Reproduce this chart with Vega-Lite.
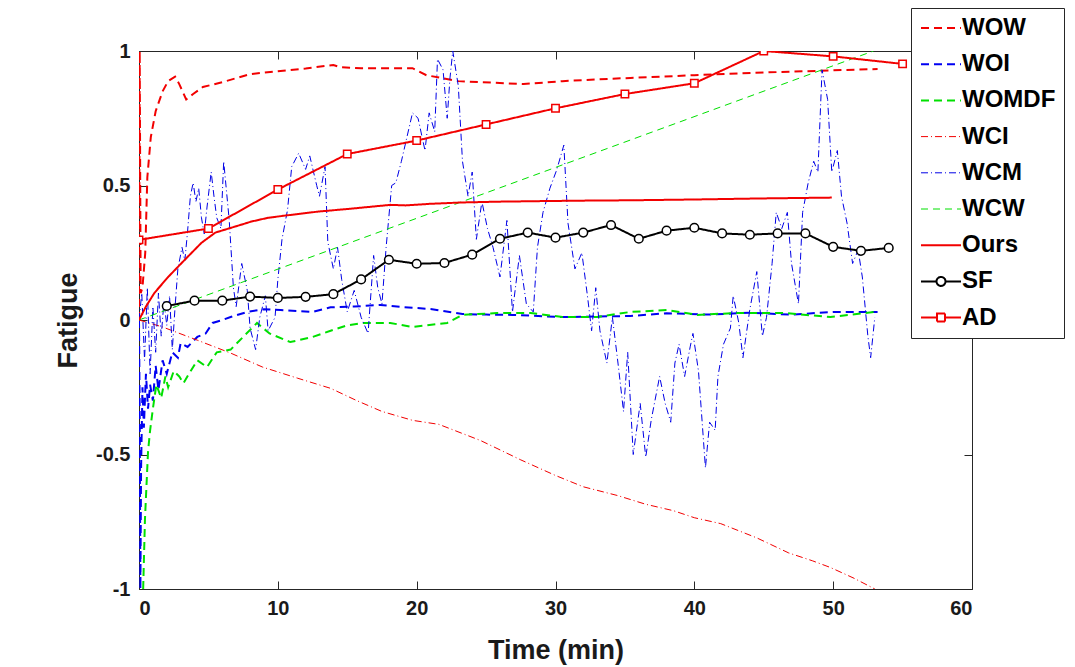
{
  "$schema": "https://vega.github.io/schema/vega-lite/v6.json",
  "width": 833,
  "height": 538,
  "autosize": {"type": "none"},
  "padding": {"left": 139, "top": 51, "right": 103, "bottom": 78},
  "background": "white",
  "datasets": {
    "series": [
      {"s": "WO_W", "t": 0, "v": 0}, {"s": "WO_W", "t": 0.05, "v": 1.0}, {"s": "WO_W", "t": 0.12, "v": 0.1},
      {"s": "WO_W", "t": 0.25, "v": 0.12}, {"s": "WO_W", "t": 0.45, "v": 0.25}, {"s": "WO_W", "t": 0.6, "v": 0.53},
      {"s": "WO_W", "t": 0.85, "v": 0.68}, {"s": "WO_W", "t": 1.2, "v": 0.776}, {"s": "WO_W", "t": 1.7, "v": 0.85},
      {"s": "WO_W", "t": 2.1, "v": 0.888}, {"s": "WO_W", "t": 2.6, "v": 0.905}, {"s": "WO_W", "t": 2.9, "v": 0.877},
      {"s": "WO_W", "t": 3.4, "v": 0.82}, {"s": "WO_W", "t": 3.9, "v": 0.84}, {"s": "WO_W", "t": 4.6, "v": 0.866},
      {"s": "WO_W", "t": 6, "v": 0.884}, {"s": "WO_W", "t": 8, "v": 0.914}, {"s": "WO_W", "t": 10, "v": 0.925},
      {"s": "WO_W", "t": 12, "v": 0.935}, {"s": "WO_W", "t": 14, "v": 0.948}, {"s": "WO_W", "t": 14.5, "v": 0.94},
      {"s": "WO_W", "t": 16, "v": 0.936}, {"s": "WO_W", "t": 19.7, "v": 0.936}, {"s": "WO_W", "t": 20.7, "v": 0.91},
      {"s": "WO_W", "t": 23, "v": 0.888}, {"s": "WO_W", "t": 27.7, "v": 0.877}, {"s": "WO_W", "t": 30.5, "v": 0.888},
      {"s": "WO_W", "t": 35.4, "v": 0.9}, {"s": "WO_W", "t": 40, "v": 0.91}, {"s": "WO_W", "t": 45, "v": 0.92},
      {"s": "WO_W", "t": 50, "v": 0.928}, {"s": "WO_W", "t": 53.2, "v": 0.933},

      {"s": "WO_I", "t": 0, "v": 0}, {"s": "WO_I", "t": 0.05, "v": -0.35}, {"s": "WO_I", "t": 0.1, "v": -1.0},
      {"s": "WO_I", "t": 0.15, "v": -0.55}, {"s": "WO_I", "t": 0.25, "v": -0.25}, {"s": "WO_I", "t": 0.35, "v": -0.4},
      {"s": "WO_I", "t": 0.5, "v": -0.2}, {"s": "WO_I", "t": 0.65, "v": -0.33}, {"s": "WO_I", "t": 0.8, "v": -0.24},
      {"s": "WO_I", "t": 1.0, "v": -0.3}, {"s": "WO_I", "t": 1.2, "v": -0.17}, {"s": "WO_I", "t": 1.4, "v": -0.26},
      {"s": "WO_I", "t": 1.7, "v": -0.15}, {"s": "WO_I", "t": 2.0, "v": -0.2}, {"s": "WO_I", "t": 2.4, "v": -0.12},
      {"s": "WO_I", "t": 2.8, "v": -0.14}, {"s": "WO_I", "t": 3.0, "v": -0.086}, {"s": "WO_I", "t": 3.5, "v": -0.1},
      {"s": "WO_I", "t": 4.2, "v": -0.063}, {"s": "WO_I", "t": 4.8, "v": -0.05}, {"s": "WO_I", "t": 5.3, "v": -0.011},
      {"s": "WO_I", "t": 6.0, "v": 0.0}, {"s": "WO_I", "t": 6.6, "v": 0.011}, {"s": "WO_I", "t": 7.8, "v": 0.03},
      {"s": "WO_I", "t": 9, "v": 0.04}, {"s": "WO_I", "t": 10.2, "v": 0.037}, {"s": "WO_I", "t": 11.5, "v": 0.033},
      {"s": "WO_I", "t": 12.5, "v": 0.03}, {"s": "WO_I", "t": 13.8, "v": 0.047}, {"s": "WO_I", "t": 15.5, "v": 0.05},
      {"s": "WO_I", "t": 17.4, "v": 0.056}, {"s": "WO_I", "t": 19, "v": 0.048}, {"s": "WO_I", "t": 21, "v": 0.041},
      {"s": "WO_I", "t": 23.3, "v": 0.022}, {"s": "WO_I", "t": 25, "v": 0.02}, {"s": "WO_I", "t": 26.9, "v": 0.019},
      {"s": "WO_I", "t": 30.5, "v": 0.011}, {"s": "WO_I", "t": 33, "v": 0.013}, {"s": "WO_I", "t": 35.4, "v": 0.015},
      {"s": "WO_I", "t": 38, "v": 0.025}, {"s": "WO_I", "t": 41, "v": 0.02}, {"s": "WO_I", "t": 44, "v": 0.027},
      {"s": "WO_I", "t": 47, "v": 0.02}, {"s": "WO_I", "t": 50, "v": 0.03}, {"s": "WO_I", "t": 53.2, "v": 0.03},

      {"s": "WO_MDF", "t": 0.3, "v": -1.0}, {"s": "WO_MDF", "t": 0.43, "v": -0.74}, {"s": "WO_MDF", "t": 0.65, "v": -0.49},
      {"s": "WO_MDF", "t": 0.8, "v": -0.41}, {"s": "WO_MDF", "t": 1.0, "v": -0.33}, {"s": "WO_MDF", "t": 1.25, "v": -0.24},
      {"s": "WO_MDF", "t": 1.6, "v": -0.29}, {"s": "WO_MDF", "t": 1.9, "v": -0.21}, {"s": "WO_MDF", "t": 2.1, "v": -0.25},
      {"s": "WO_MDF", "t": 2.5, "v": -0.19}, {"s": "WO_MDF", "t": 2.9, "v": -0.21}, {"s": "WO_MDF", "t": 3.2, "v": -0.235},
      {"s": "WO_MDF", "t": 3.6, "v": -0.2}, {"s": "WO_MDF", "t": 4.2, "v": -0.15}, {"s": "WO_MDF", "t": 4.9, "v": -0.175},
      {"s": "WO_MDF", "t": 5.6, "v": -0.12}, {"s": "WO_MDF", "t": 6.6, "v": -0.11}, {"s": "WO_MDF", "t": 7.5, "v": -0.063},
      {"s": "WO_MDF", "t": 8.5, "v": -0.011}, {"s": "WO_MDF", "t": 9.4, "v": -0.05}, {"s": "WO_MDF", "t": 10.9, "v": -0.082},
      {"s": "WO_MDF", "t": 12.5, "v": -0.063}, {"s": "WO_MDF", "t": 13.8, "v": -0.04}, {"s": "WO_MDF", "t": 15, "v": -0.02},
      {"s": "WO_MDF", "t": 16.1, "v": -0.011}, {"s": "WO_MDF", "t": 18.1, "v": -0.011}, {"s": "WO_MDF", "t": 19.7, "v": -0.026},
      {"s": "WO_MDF", "t": 22.2, "v": -0.011}, {"s": "WO_MDF", "t": 23.3, "v": 0.019}, {"s": "WO_MDF", "t": 25.8, "v": 0.026},
      {"s": "WO_MDF", "t": 28.2, "v": 0.026}, {"s": "WO_MDF", "t": 30.5, "v": 0.011}, {"s": "WO_MDF", "t": 33, "v": 0.011},
      {"s": "WO_MDF", "t": 35.4, "v": 0.03}, {"s": "WO_MDF", "t": 38, "v": 0.037}, {"s": "WO_MDF", "t": 40.2, "v": 0.019},
      {"s": "WO_MDF", "t": 43, "v": 0.026}, {"s": "WO_MDF", "t": 46.5, "v": 0.026}, {"s": "WO_MDF", "t": 49.8, "v": 0.011},
      {"s": "WO_MDF", "t": 53, "v": 0.03},

      {"s": "WCI", "t": 0, "v": 0}, {"s": "WCI", "t": 1.7, "v": -0.026}, {"s": "WCI", "t": 4.2, "v": -0.075},
      {"s": "WCI", "t": 6.6, "v": -0.123}, {"s": "WCI", "t": 8.9, "v": -0.175}, {"s": "WCI", "t": 11.4, "v": -0.216},
      {"s": "WCI", "t": 13.8, "v": -0.254}, {"s": "WCI", "t": 15.7, "v": -0.3}, {"s": "WCI", "t": 17.5, "v": -0.34},
      {"s": "WCI", "t": 19.7, "v": -0.373}, {"s": "WCI", "t": 21.6, "v": -0.388}, {"s": "WCI", "t": 24.6, "v": -0.448},
      {"s": "WCI", "t": 27.5, "v": -0.52}, {"s": "WCI", "t": 30, "v": -0.578}, {"s": "WCI", "t": 32, "v": -0.62},
      {"s": "WCI", "t": 34.5, "v": -0.653}, {"s": "WCI", "t": 36.5, "v": -0.685}, {"s": "WCI", "t": 38.5, "v": -0.709},
      {"s": "WCI", "t": 40, "v": -0.735}, {"s": "WCI", "t": 41.9, "v": -0.757}, {"s": "WCI", "t": 44.5, "v": -0.81},
      {"s": "WCI", "t": 46.8, "v": -0.866}, {"s": "WCI", "t": 48.5, "v": -0.895}, {"s": "WCI", "t": 49.8, "v": -0.92},
      {"s": "WCI", "t": 51.5, "v": -0.96}, {"s": "WCI", "t": 53, "v": -1.0},

      {"s": "WCM", "t": 0, "v": 0}, {"s": "WCM", "t": 0.2, "v": 0.1}, {"s": "WCM", "t": 0.4, "v": -0.15},
      {"s": "WCM", "t": 0.6, "v": 0.12}, {"s": "WCM", "t": 0.8, "v": -0.2}, {"s": "WCM", "t": 1.0, "v": 0.05},
      {"s": "WCM", "t": 1.2, "v": -0.12}, {"s": "WCM", "t": 1.4, "v": 0.1}, {"s": "WCM", "t": 1.6, "v": -0.06},
      {"s": "WCM", "t": 1.8, "v": 0.07}, {"s": "WCM", "t": 2.0, "v": -0.02}, {"s": "WCM", "t": 2.2, "v": 0.09},
      {"s": "WCM", "t": 2.4, "v": -0.11}, {"s": "WCM", "t": 2.6, "v": 0.05}, {"s": "WCM", "t": 2.8, "v": 0.19},
      {"s": "WCM", "t": 3.1, "v": 0.27}, {"s": "WCM", "t": 3.3, "v": 0.22}, {"s": "WCM", "t": 3.5, "v": 0.33},
      {"s": "WCM", "t": 3.7, "v": 0.46}, {"s": "WCM", "t": 3.9, "v": 0.51}, {"s": "WCM", "t": 4.1, "v": 0.44},
      {"s": "WCM", "t": 4.3, "v": 0.49}, {"s": "WCM", "t": 4.5, "v": 0.38}, {"s": "WCM", "t": 4.7, "v": 0.32},
      {"s": "WCM", "t": 4.9, "v": 0.42}, {"s": "WCM", "t": 5.2, "v": 0.55}, {"s": "WCM", "t": 5.4, "v": 0.46},
      {"s": "WCM", "t": 5.6, "v": 0.38}, {"s": "WCM", "t": 5.9, "v": 0.34}, {"s": "WCM", "t": 6.1, "v": 0.59},
      {"s": "WCM", "t": 6.3, "v": 0.48}, {"s": "WCM", "t": 6.5, "v": 0.37}, {"s": "WCM", "t": 6.8, "v": 0.12},
      {"s": "WCM", "t": 7.0, "v": 0.05}, {"s": "WCM", "t": 7.4, "v": 0.21}, {"s": "WCM", "t": 7.8, "v": 0.11},
      {"s": "WCM", "t": 8.0, "v": -0.03}, {"s": "WCM", "t": 8.4, "v": -0.11}, {"s": "WCM", "t": 8.7, "v": 0.01},
      {"s": "WCM", "t": 9.1, "v": 0.09}, {"s": "WCM", "t": 9.3, "v": -0.04}, {"s": "WCM", "t": 9.8, "v": 0.01},
      {"s": "WCM", "t": 10.0, "v": 0.15}, {"s": "WCM", "t": 10.3, "v": 0.3}, {"s": "WCM", "t": 10.7, "v": 0.41},
      {"s": "WCM", "t": 11.0, "v": 0.57}, {"s": "WCM", "t": 11.5, "v": 0.62}, {"s": "WCM", "t": 12.0, "v": 0.56},
      {"s": "WCM", "t": 12.3, "v": 0.61}, {"s": "WCM", "t": 12.8, "v": 0.5}, {"s": "WCM", "t": 13.0, "v": 0.46},
      {"s": "WCM", "t": 13.4, "v": 0.57}, {"s": "WCM", "t": 13.6, "v": 0.29}, {"s": "WCM", "t": 14.0, "v": 0.19},
      {"s": "WCM", "t": 14.3, "v": 0.27}, {"s": "WCM", "t": 14.6, "v": 0.15}, {"s": "WCM", "t": 15.0, "v": 0.03},
      {"s": "WCM", "t": 15.5, "v": 0.11}, {"s": "WCM", "t": 16.0, "v": 0.01}, {"s": "WCM", "t": 16.5, "v": -0.05},
      {"s": "WCM", "t": 16.9, "v": 0.24}, {"s": "WCM", "t": 17.2, "v": 0.12}, {"s": "WCM", "t": 17.5, "v": 0.06},
      {"s": "WCM", "t": 17.8, "v": 0.27}, {"s": "WCM", "t": 18.2, "v": 0.5}, {"s": "WCM", "t": 18.5, "v": 0.51},
      {"s": "WCM", "t": 18.9, "v": 0.59}, {"s": "WCM", "t": 19.3, "v": 0.68}, {"s": "WCM", "t": 19.7, "v": 0.77},
      {"s": "WCM", "t": 20.1, "v": 0.75}, {"s": "WCM", "t": 20.6, "v": 0.63}, {"s": "WCM", "t": 20.9, "v": 0.77},
      {"s": "WCM", "t": 21.3, "v": 0.7}, {"s": "WCM", "t": 21.5, "v": 0.97}, {"s": "WCM", "t": 21.9, "v": 0.93},
      {"s": "WCM", "t": 22.2, "v": 0.75}, {"s": "WCM", "t": 22.4, "v": 0.9}, {"s": "WCM", "t": 22.6, "v": 1.0},
      {"s": "WCM", "t": 23.0, "v": 0.87}, {"s": "WCM", "t": 23.3, "v": 0.59}, {"s": "WCM", "t": 23.7, "v": 0.46},
      {"s": "WCM", "t": 24.0, "v": 0.55}, {"s": "WCM", "t": 24.3, "v": 0.3}, {"s": "WCM", "t": 24.7, "v": 0.44},
      {"s": "WCM", "t": 25.1, "v": 0.34}, {"s": "WCM", "t": 25.5, "v": 0.27}, {"s": "WCM", "t": 26.0, "v": 0.16},
      {"s": "WCM", "t": 26.5, "v": 0.37}, {"s": "WCM", "t": 26.9, "v": 0.03}, {"s": "WCM", "t": 27.4, "v": 0.24},
      {"s": "WCM", "t": 27.9, "v": 0.06}, {"s": "WCM", "t": 28.4, "v": 0.03}, {"s": "WCM", "t": 28.7, "v": 0.27},
      {"s": "WCM", "t": 29.1, "v": 0.4}, {"s": "WCM", "t": 29.6, "v": 0.49}, {"s": "WCM", "t": 30.1, "v": 0.56},
      {"s": "WCM", "t": 30.6, "v": 0.65}, {"s": "WCM", "t": 30.9, "v": 0.36}, {"s": "WCM", "t": 31.4, "v": 0.19},
      {"s": "WCM", "t": 31.9, "v": 0.25}, {"s": "WCM", "t": 32.3, "v": 0.09}, {"s": "WCM", "t": 32.6, "v": -0.04},
      {"s": "WCM", "t": 32.9, "v": 0.12}, {"s": "WCM", "t": 33.2, "v": -0.04}, {"s": "WCM", "t": 33.7, "v": -0.16},
      {"s": "WCM", "t": 34.1, "v": 0.01}, {"s": "WCM", "t": 34.5, "v": -0.16}, {"s": "WCM", "t": 34.9, "v": -0.34},
      {"s": "WCM", "t": 35.2, "v": -0.12}, {"s": "WCM", "t": 35.6, "v": -0.5}, {"s": "WCM", "t": 36.1, "v": -0.31},
      {"s": "WCM", "t": 36.5, "v": -0.51}, {"s": "WCM", "t": 36.9, "v": -0.37}, {"s": "WCM", "t": 37.5, "v": -0.21},
      {"s": "WCM", "t": 37.9, "v": -0.31}, {"s": "WCM", "t": 38.3, "v": -0.38}, {"s": "WCM", "t": 38.6, "v": -0.16},
      {"s": "WCM", "t": 38.9, "v": -0.09}, {"s": "WCM", "t": 39.3, "v": -0.21}, {"s": "WCM", "t": 39.7, "v": -0.1},
      {"s": "WCM", "t": 39.9, "v": -0.05}, {"s": "WCM", "t": 40.3, "v": -0.19}, {"s": "WCM", "t": 40.8, "v": -0.55},
      {"s": "WCM", "t": 41.1, "v": -0.38}, {"s": "WCM", "t": 41.5, "v": -0.41}, {"s": "WCM", "t": 41.7, "v": -0.21},
      {"s": "WCM", "t": 42.1, "v": -0.09}, {"s": "WCM", "t": 42.6, "v": -0.03}, {"s": "WCM", "t": 42.8, "v": 0.09},
      {"s": "WCM", "t": 43.2, "v": -0.01}, {"s": "WCM", "t": 43.5, "v": -0.14}, {"s": "WCM", "t": 44.0, "v": 0.04},
      {"s": "WCM", "t": 44.5, "v": 0.18}, {"s": "WCM", "t": 44.9, "v": -0.06}, {"s": "WCM", "t": 45.2, "v": 0.01},
      {"s": "WCM", "t": 45.6, "v": 0.21}, {"s": "WCM", "t": 45.9, "v": 0.4}, {"s": "WCM", "t": 46.3, "v": 0.34},
      {"s": "WCM", "t": 46.7, "v": 0.4}, {"s": "WCM", "t": 47.0, "v": 0.21}, {"s": "WCM", "t": 47.5, "v": 0.06},
      {"s": "WCM", "t": 47.8, "v": 0.4}, {"s": "WCM", "t": 48.2, "v": 0.51}, {"s": "WCM", "t": 48.6, "v": 0.59},
      {"s": "WCM", "t": 48.9, "v": 0.55}, {"s": "WCM", "t": 49.2, "v": 0.93}, {"s": "WCM", "t": 49.6, "v": 0.82},
      {"s": "WCM", "t": 49.9, "v": 0.55}, {"s": "WCM", "t": 50.3, "v": 0.63}, {"s": "WCM", "t": 50.6, "v": 0.46},
      {"s": "WCM", "t": 51.0, "v": 0.36}, {"s": "WCM", "t": 51.4, "v": 0.21}, {"s": "WCM", "t": 51.8, "v": 0.26},
      {"s": "WCM", "t": 52.1, "v": 0.16}, {"s": "WCM", "t": 52.5, "v": -0.06}, {"s": "WCM", "t": 52.7, "v": -0.14},
      {"s": "WCM", "t": 53.0, "v": 0.01},

      {"s": "WCW", "t": 0, "v": 0}, {"s": "WCW", "t": 52.9, "v": 1.0},

      {"s": "Ours", "t": 0, "v": 0}, {"s": "Ours", "t": 0.5, "v": 0.05}, {"s": "Ours", "t": 1.1, "v": 0.1},
      {"s": "Ours", "t": 2.1, "v": 0.16}, {"s": "Ours", "t": 3.3, "v": 0.224}, {"s": "Ours", "t": 4.5, "v": 0.287},
      {"s": "Ours", "t": 5.5, "v": 0.325}, {"s": "Ours", "t": 6.9, "v": 0.347}, {"s": "Ours", "t": 8.1, "v": 0.366},
      {"s": "Ours", "t": 9.3, "v": 0.38}, {"s": "Ours", "t": 10.5, "v": 0.388}, {"s": "Ours", "t": 12.9, "v": 0.403},
      {"s": "Ours", "t": 15.3, "v": 0.414}, {"s": "Ours", "t": 18.1, "v": 0.428}, {"s": "Ours", "t": 19.2, "v": 0.426},
      {"s": "Ours", "t": 21, "v": 0.432}, {"s": "Ours", "t": 23.3, "v": 0.437}, {"s": "Ours", "t": 26, "v": 0.44},
      {"s": "Ours", "t": 29, "v": 0.442}, {"s": "Ours", "t": 32.5, "v": 0.444}, {"s": "Ours", "t": 35.4, "v": 0.445},
      {"s": "Ours", "t": 40, "v": 0.448}, {"s": "Ours", "t": 45, "v": 0.452}, {"s": "Ours", "t": 49.9, "v": 0.455},

      {"s": "SF", "t": 2, "v": 0.052}, {"s": "SF", "t": 4, "v": 0.072}, {"s": "SF", "t": 6, "v": 0.072},
      {"s": "SF", "t": 8, "v": 0.087}, {"s": "SF", "t": 10, "v": 0.082}, {"s": "SF", "t": 12, "v": 0.086},
      {"s": "SF", "t": 14, "v": 0.096}, {"s": "SF", "t": 16, "v": 0.151}, {"s": "SF", "t": 18, "v": 0.224},
      {"s": "SF", "t": 20, "v": 0.209}, {"s": "SF", "t": 22, "v": 0.212}, {"s": "SF", "t": 24, "v": 0.243},
      {"s": "SF", "t": 26, "v": 0.302}, {"s": "SF", "t": 28, "v": 0.325}, {"s": "SF", "t": 30, "v": 0.306},
      {"s": "SF", "t": 32, "v": 0.325}, {"s": "SF", "t": 34, "v": 0.353}, {"s": "SF", "t": 36, "v": 0.302},
      {"s": "SF", "t": 38, "v": 0.332}, {"s": "SF", "t": 40, "v": 0.343}, {"s": "SF", "t": 42, "v": 0.322},
      {"s": "SF", "t": 44, "v": 0.317}, {"s": "SF", "t": 46, "v": 0.322}, {"s": "SF", "t": 48, "v": 0.322},
      {"s": "SF", "t": 50, "v": 0.272}, {"s": "SF", "t": 52, "v": 0.257}, {"s": "SF", "t": 54, "v": 0.268},

      {"s": "AD", "t": 0, "v": 0.298}, {"s": "AD", "t": 5, "v": 0.34}, {"s": "AD", "t": 10, "v": 0.485},
      {"s": "AD", "t": 15, "v": 0.617}, {"s": "AD", "t": 20, "v": 0.667}, {"s": "AD", "t": 25, "v": 0.727},
      {"s": "AD", "t": 30, "v": 0.787}, {"s": "AD", "t": 35, "v": 0.84}, {"s": "AD", "t": 40, "v": 0.88},
      {"s": "AD", "t": 45, "v": 1.0}, {"s": "AD", "t": 50, "v": 0.98}, {"s": "AD", "t": 55, "v": 0.952}
    ]
  },
  "data": {"name": "series"},
  "layer": [
    {
      "mark": {"type": "line", "clip": true},
      "encoding": {
        "x": {
          "field": "t", "type": "quantitative",
          "scale": {"domain": [0, 60], "nice": false, "zero": false},
          "axis": {"values": [0, 10, 20, 30, 40, 50, 60], "title": "Time (min)", "tickSize": -8, "labelPadding": 17, "titlePadding": 19}
        },
        "y": {
          "field": "v", "type": "quantitative",
          "scale": {"domain": [-1, 1], "nice": false, "zero": false},
          "axis": {"values": [-1, -0.5, 0, 0.5, 1], "labelExpr": "toString(datum.value)", "title": "Fatigue", "tickSize": -8, "labelPadding": 17, "titlePadding": 13}
        },
        "color": {
          "field": "s", "type": "nominal",
          "scale": {
            "domain": ["WO_W", "WO_I", "WO_MDF", "WCI", "WCM", "WCW", "Ours", "SF", "AD"],
            "range": ["#f20000", "#0000f2", "#00e000", "#f20000", "#0000e6", "#00e000", "#f20000", "#000000", "#f20000"]
          },
          "legend": {
            "title": null, "orient": "none", "legendX": 772, "legendY": -43,
            "fillColor": "white", "strokeColor": "#262626", "padding": 8,
            "labelFont": "Liberation Sans", "labelFontSize": 24, "labelFontWeight": "bold", "labelColor": "black",
            "labelExpr": "replace(datum.label, '_', '')",
            "symbolType": "M-1,0H3", "symbolSize": 400, "symbolStrokeWidth": 2,
            "labelOffset": 19, "rowPadding": 12.2, "labelLimit": 200,
            "encode": {
              "symbols": {
                "update": {
                  "shape": {"signal": "datum.value === 'SF' ? 'M-1,0H0.55M1.45,0H3M1.45,0A0.45,0.45 0 1 1 0.55,0A0.45,0.45 0 1 1 1.45,0' : datum.value === 'AD' ? 'M-1,0H0.6M1.4,0H3M0.6,-0.4H1.4V0.4H0.6Z' : 'M-1,0H3'"},
                  "fill": {"value": "transparent"},
                  "strokeWidth": {"signal": "indexof(['WCI','WCM','WCW'], datum.value) >= 0 ? 1 : 2"}
                }
              }
            }
          }
        },
        "strokeDash": {
          "field": "s", "type": "nominal",
          "scale": {
            "domain": ["WO_W", "WO_I", "WO_MDF", "WCI", "WCM", "WCW", "Ours", "SF", "AD"],
            "range": [[8, 5], [8, 5], [8, 5], [7, 3, 1, 3], [7, 3, 1, 3], [7, 5], [1, 0], [1, 0], [1, 0]]
          }
        },
        "strokeWidth": {
          "field": "s", "type": "nominal",
          "scale": {
            "type": "ordinal",
            "domain": ["WO_W", "WO_I", "WO_MDF", "WCI", "WCM", "WCW", "Ours", "SF", "AD"],
            "range": [2, 2, 2, 1, 1, 1, 2, 2, 2]
          },
          "legend": null
        }
      }
    },
    {
      "transform": [{"filter": "datum.s === 'SF' || datum.s === 'AD'"}],
      "mark": {"type": "point", "filled": false, "fill": "white", "clip": true, "strokeWidth": 1.5, "opacity": 1},
      "encoding": {
        "x": {"field": "t", "type": "quantitative", "axis": null},
        "y": {"field": "v", "type": "quantitative", "axis": null},
        "shape": {"condition": {"test": "datum.s === 'SF'", "value": "circle"}, "value": "square"},
        "stroke": {"condition": {"test": "datum.s === 'SF'", "value": "#000000"}, "value": "#f20000"},
        "size": {"condition": {"test": "datum.s === 'SF'", "value": 75}, "value": 55}
      }
    },
    {
      "transform": [{"filter": "datum.s === 'WCW'"}],
      "mark": {"type": "line", "opacity": 0},
      "encoding": {
        "x": {"field": "t", "type": "quantitative", "axis": {"orient": "top", "values": [0, 10, 20, 30, 40, 50, 60], "labels": false, "title": null, "tickSize": -8}},
        "y": {"field": "v", "type": "quantitative", "axis": {"orient": "right", "values": [-1, -0.5, 0, 0.5, 1], "labels": false, "title": null, "tickSize": -8}}
      }
    }
  ],
  "resolve": {"axis": {"x": "independent", "y": "independent"}},
  "config": {
    "view": {"stroke": "#262626", "strokeWidth": 1},
    "axis": {
      "grid": false, "domain": false, "ticks": true, "tickColor": "#262626", "tickWidth": 1,
      "labelFont": "Liberation Sans", "labelFontSize": 20, "labelFontWeight": "bold", "labelColor": "#1a1a1a",
      "titleFont": "Liberation Sans", "titleFontSize": 27, "titleFontWeight": "bold", "titleColor": "#1a1a1a"
    }
  }
}
